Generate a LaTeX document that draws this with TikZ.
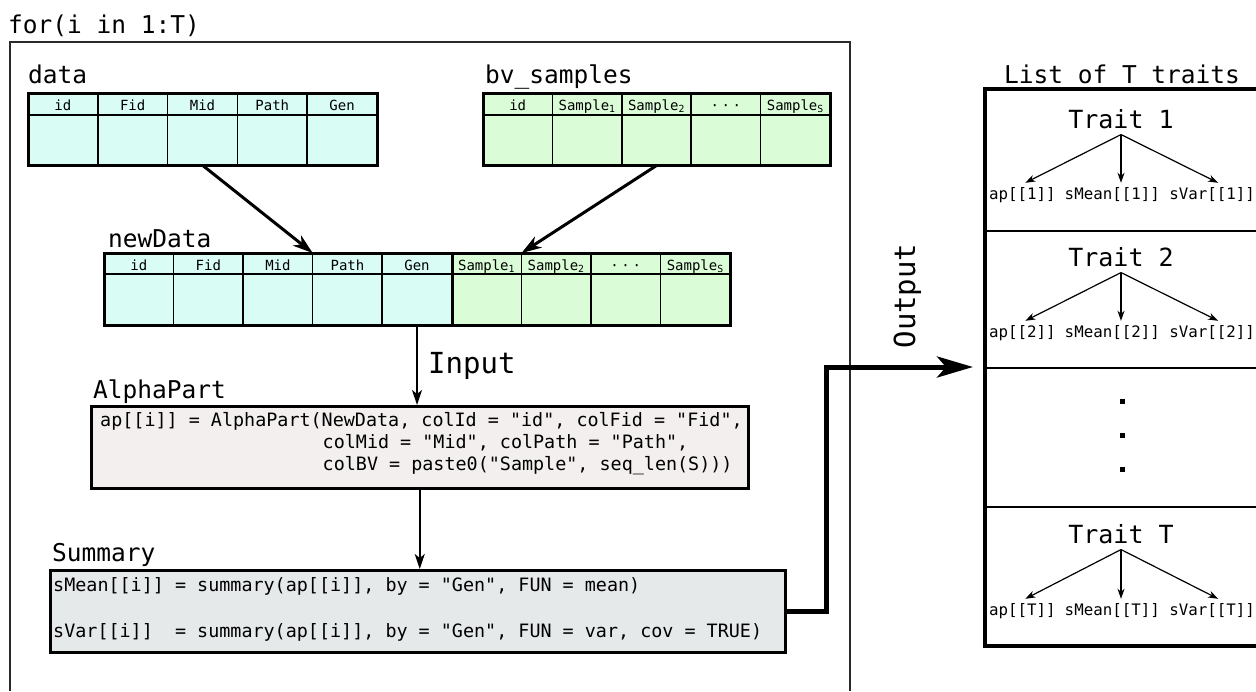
\documentclass[tikz,border=0pt]{standalone}
\usepackage{fontspec}
\newfontfamily\djm{DejaVu Sans Mono}
\usetikzlibrary{arrows.meta,calc}
\definecolor{cyanfill}{HTML}{D9FCF4}
\definecolor{greenfill}{HTML}{DAFCD6}
\definecolor{alphafill}{HTML}{F2EFEE}
\definecolor{sumfill}{HTML}{E6E9EA}
\definecolor{framegray}{HTML}{2A2A2A}
\begin{document}
\begin{tikzpicture}[x=1pt,y=-1pt,
  lbl/.style={font=\djm\fontsize{24.5}{24.5}\selectfont, inner sep=0pt, anchor=base west},
  biglbl/.style={font=\djm\fontsize{29}{29}\selectfont, inner sep=0pt},
  hdr/.style={font=\djm\fontsize{14}{14}\selectfont, inner sep=0pt, anchor=base},
  code/.style={font=\djm\fontsize{18.4}{18.4}\selectfont, inner sep=0pt, anchor=base west},
  trait/.style={font=\djm\fontsize{25}{25}\selectfont, inner sep=6pt, anchor=base},
  item/.style={font=\djm\fontsize{15.8}{15.8}\selectfont, inner sep=4pt, anchor=base},
  cellline/.style={line width=1.5pt},
  tborder/.style={line width=3pt},
  flow/.style={line width=3pt, -{Stealth[length=20pt,width=13pt,inset=6pt]}},
  inarr/.style={line width=2pt, -{Stealth[length=15pt,width=10pt,inset=4pt]}},
  tarr/.style={line width=1.2pt, -{Stealth[length=10pt,width=7pt,inset=3pt]}},
  outarr/.style={line width=5pt, -{Stealth[length=36pt,width=21pt,inset=9pt]}},
  codebox/.style={draw=black, line width=2.5pt, inner sep=0pt, anchor=north west},
  trow/.style={inner sep=0pt, anchor=north west, minimum height=72pt},
]
\useasboundingbox (0,0) rectangle (1256,691);
\fill[white] (0,0) rectangle (1256,691);

% loop frame
\node[lbl] (forlbl) at (8,33) {for(i in 1:T)};
\draw[framegray, line width=1.5pt] (10,691) |- (850,42) -- (850,691);

% ---- data table
\node[lbl] (datalbl) at (28,83) {data};
\node[trow, fill=cyanfill, minimum width=349pt] (data) at (28,93) {};
\foreach \i in {1,...,4} \draw[cellline] ($(data.north west)+(69.8*\i,0)$) -- ++(0,72);
\draw[cellline] ($(data.north west)+(0,22)$) -- ++(349,0);
\foreach \t [count=\i] in {id,Fid,Mid,Path,Gen}
  \node[hdr] at (28+69.8*\i-34.9,110) {\t};
\draw[tborder] (data.north west) rectangle (data.south east);

% ---- bv_samples table
\node[lbl] (bvlbl) at (485,83) {bv\_samples};
\node[trow, fill=greenfill, minimum width=347pt] (bv) at (483,93) {};
\foreach \i in {1,...,4} \draw[cellline] ($(bv.north west)+(69.4*\i,0)$) -- ++(0,72);
\draw[cellline] ($(bv.north west)+(0,22)$) -- ++(347,0);
\foreach \t [count=\i] in {id,Sample\textsubscript{1},Sample\textsubscript{2},·\hspace{2.6pt}·\hspace{2.6pt}·,Sample\textsubscript{S}}
  \node[hdr] at (483+69.4*\i-34.7,110) {\t};
\draw[tborder] (bv.north west) rectangle (bv.south east);

% ---- newData table
\node[lbl] (ndlbl) at (108,247) {newData};
\node[trow, fill=cyanfill, minimum width=348pt] (ndc) at (104,253) {};
\node[trow, fill=greenfill, minimum width=278pt] (ndg) at (452,253) {};
\foreach \i in {1,...,8} \draw[cellline] (104+69.56*\i,253) -- ++(0,72);
\draw[cellline] (104,274) -- (730,274);
\foreach \t [count=\i] in {id,Fid,Mid,Path,Gen,Sample\textsubscript{1},Sample\textsubscript{2},·\hspace{2.6pt}·\hspace{2.6pt}·,Sample\textsubscript{S}}
  \node[hdr] at (104+69.56*\i-34.78,270) {\t};
\draw[tborder] (452,253) -- (452,325);
\draw[tborder] (ndc.north west) rectangle (ndg.south east);
\coordinate (ndPath) at ($(ndc.north west)+(3*69.56,0)$);
\coordinate (ndS2) at ($(ndg.north west)+(69.56,0)$);
\coordinate (ndGen) at ($(ndc.south west)+(4.5*69.56,0)$);

\draw[flow] (data.south) -- (ndPath);
\draw[flow] (bv.south) -- (ndS2);

% ---- AlphaPart
\node[lbl] (aplbl) at (93,398) {AlphaPart};
\node[codebox, fill=alphafill, minimum width=657pt, minimum height=82pt] (alpha) at (90,405) {};
\node[code] (ap1) at (100,426) {ap[[i]] = AlphaPart(NewData, colId = "id", colFid = "Fid",};
\node[code] (ap2) at (322.5,448) {colMid = "Mid", colPath = "Path",};
\node[code] (ap3) at (322.5,470) {colBV = paste0("Sample", seq\_len(S)))};

\draw[inarr] (ndGen) -- (ndGen |- alpha.north);
\node[biglbl, anchor=base west] (inlbl) at (428,373) {Input};

% ---- Summary
\node[lbl] (sumlbl) at (52,561) {Summary};
\node[codebox, fill=sumfill, minimum width=735pt, minimum height=82pt] (summ) at (49,569) {};
\node[code] (s1) at (53,591) {sMean[[i]] = summary(ap[[i]], by = "Gen", FUN = mean)};
\node[code] (s2) at (53,637) {sVar[[i]]\ \ = summary(ap[[i]], by = "Gen", FUN = var, cov = TRUE)};

\draw[inarr] (alpha.south) -- (alpha.south |- summ.north);

% ---- Output
\coordinate (outend) at (973,367);
\draw[outarr] (summ.east) -| (826,367) -- (outend);
\node[biglbl, rotate=90, anchor=base] (outlbl) at (915,296) {Output};

% ---- List of T traits
\node[lbl, anchor=base] (listlbl) at (1122,83) {List of T traits};
\draw[line width=4pt] (1258,89) -| (985,646) -- (1258,646);
\foreach \y in {231,368,507} \draw[line width=1.5pt] (985,\y) -- (1258,\y);

\foreach \k/\lab/\ty/\iy in {1/1/128/199, 2/2/266/337, T/T/543/615}{
  \node[trait] (t\k) at (1121,\ty) {Trait \lab};
  \node[item] (a\k) at (1022.3,\iy) {ap[[\lab]]};
  \node[item] (m\k) at (1112.3,\iy) {sMean[[\lab]]};
  \node[item] (v\k) at (1212.1,\iy) {sVar[[\lab]]};
  \draw[tarr] (t\k.south) -- ($(a\k.north)+(3,0)$);
  \draw[tarr] (t\k.south) -- (t\k.south |- m\k.north);
  \draw[tarr] (t\k.south) -- ($(v\k.north)+(6,0)$);
}
\foreach \y in {401,435,469} \fill (1119.5,\y-2.5) rectangle ++(5,5);
\end{tikzpicture}
\end{document}
